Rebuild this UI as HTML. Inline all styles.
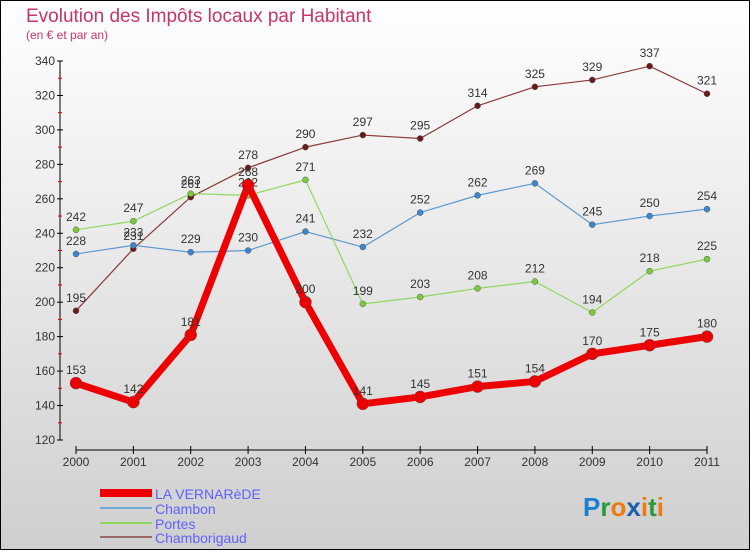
<!DOCTYPE html>
<html><head><meta charset="utf-8"><style>
body{margin:0;width:750px;height:550px;overflow:hidden;font-family:"Liberation Sans",sans-serif}
</style></head><body>
<svg id="c" width="750" height="550" xmlns="http://www.w3.org/2000/svg">
<defs><linearGradient id="bg" x1="0" y1="0" x2="0" y2="1"><stop offset="0" stop-color="#ffffff"/><stop offset="1" stop-color="#cfcfcf"/></linearGradient></defs>
<rect x="0.5" y="0.5" width="749" height="549" fill="url(#bg)" stroke="#000"/>
<text x="26" y="22" font-size="19" fill="#c8336a">Evolution des Impôts locaux par Habitant</text>
<text x="26" y="39" font-size="12" fill="#c8336a">(en € et par an)</text>
<g id="axes"></g><g id="series"></g>
<g>
<rect x="100" y="489" width="52" height="8" fill="#ee0000"/>
<text x="155" y="499" font-size="14" fill="#6060ff">LA VERNARèDE</text>
<rect x="100" y="507" width="52" height="2" fill="#6fa6d6"/>
<text x="155" y="514" font-size="14" fill="#6060ff">Chambon</text>
<rect x="100" y="522" width="52" height="2" fill="#8fd860"/>
<text x="155" y="529" font-size="14" fill="#6060ff">Portes</text>
<rect x="100" y="536" width="52" height="2" fill="#9a6a6a"/>
<text x="155" y="543" font-size="14" fill="#6060ff">Chamborigaud</text>
</g>
<text x="583" y="516" font-size="26" font-weight="bold"><tspan fill="#1a7fd0">P</tspan><tspan fill="#2a9a3a">r</tspan><tspan fill="#f07a10">o</tspan><tspan fill="#1a5fb0">x</tspan><tspan fill="#f07a10">i</tspan><tspan fill="#2a9a3a">t</tspan><tspan fill="#f07a10">i</tspan></text>
</svg>
<script>
const years=["2000","2001","2002","2003","2004","2005","2006","2007","2008","2009","2010","2011"];
const yTicks=[120,140,160,180,200,220,240,260,280,300,320,340];
const vernarede=[153,142,181,268,200,141,145,151,154,170,175,180];
const chambon=[228,233,229,230,241,232,252,262,269,245,250,254];
const portes=[242,247,263,262,271,199,203,208,212,194,218,225];
const chamborigaud=[195,231,261,278,290,297,295,314,325,329,337,321];
const NS="http://www.w3.org/2000/svg";
const xPos=i=>76+i*(707-76)/11;
const yPos=v=>440-(v-120)*(379/220);
function mk(t,a,p){const e=document.createElementNS(NS,t);for(const k in a)e.setAttribute(k,a[k]);p.appendChild(e);return e;}
const ax=document.getElementById('axes');
let yl=mk('line',{x1:60,y1:yPos(340),x2:60,y2:yPos(120),stroke:'#000'},ax);


yTicks.forEach(v=>{
 mk('line',{x1:57,y1:yPos(v),x2:63,y2:yPos(v),stroke:'#000'},ax);
 if(v<340){mk('line',{x1:58,y1:yPos(v+10),x2:62,y2:yPos(v+10),stroke:'#d00'},ax);}
 const t=mk('text',{x:55,y:yPos(v)+4,'font-size':12,'text-anchor':'end',fill:'#333'},ax);t.textContent=v;
 
 
});
let xl=mk('line',{x1:76,y1:450,x2:707,y2:450,stroke:'#000'},ax);


years.forEach((y,i)=>{
 mk('line',{x1:xPos(i),y1:446,x2:xPos(i),y2:454,stroke:'#000'},ax);
 const t=mk('text',{x:xPos(i),y:466,'font-size':12,'text-anchor':'middle',fill:'#333'},ax);t.textContent=y;
 
 
});
const sg=document.getElementById('series');
function series(data,name,color,dot,w,r){
 const g=mk('g',{},sg);
 
 
 const pl=mk('polyline',{points:data.map((v,i)=>xPos(i)+','+yPos(v)).join(' '),fill:'none',stroke:color,'stroke-width':w,'stroke-linejoin':'round'},g);
 
 
 data.forEach((v,i)=>{
  const c=mk('circle',{cx:xPos(i),cy:yPos(v),r:r,fill:dot,stroke:'#555','stroke-width':0.5},g);
  
  
  const t=mk('text',{x:xPos(i),y:yPos(v)-9,'font-size':12,'text-anchor':'middle',fill:'#333'},g);t.textContent=v;
  
  
 });
}
series(chamborigaud,'chamborigaud','#8a3a3a','#6a1a1a',1.2,3);
series(chambon,'chambon','#5a9ad0','#3a86d0',1.2,3);
series(portes,'portes','#8fd860','#7acc3a',1.2,3);
series(vernarede,'la-vernarede','#ee0000','#ee0000',7,6);
</script>
</body></html>
